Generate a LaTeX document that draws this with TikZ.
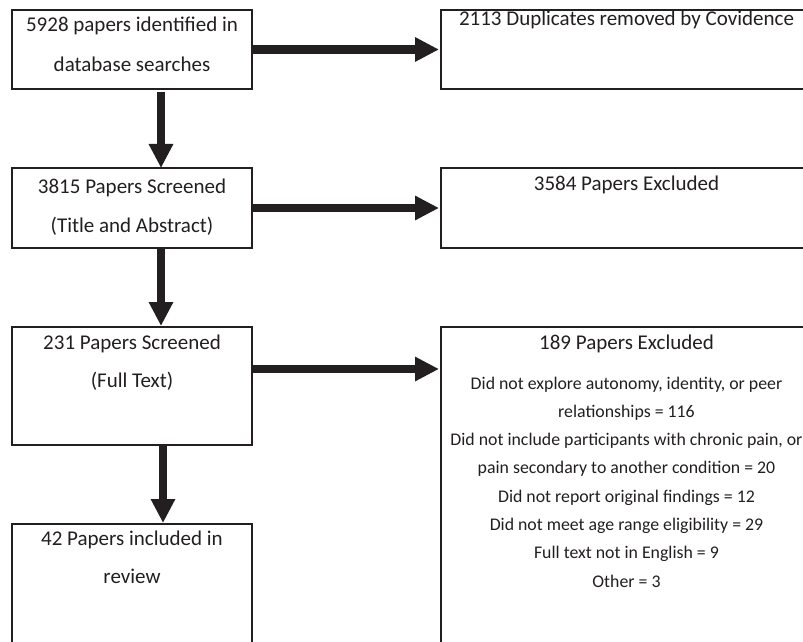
\documentclass[tikz,border=0pt]{standalone}
\usepackage{fontspec}
\setmainfont{Carlito}
\usepackage{xcolor}
\usepackage{tikz}
\usetikzlibrary{calc,arrows.meta}
\definecolor{ink}{HTML}{231F20}
\definecolor{paper}{HTML}{FFFFFF}
\tikzset{
  stage/.style={draw=ink, line width=1.2bp, inner sep=0pt, outer sep=0pt, anchor=north west, text=ink, font=\fontsize{21bp}{39bp}\selectfont},
  flow/.style={draw=ink, line width=8.7bp, -{Triangle[length=24bp,width=23bp]}},
}

\begin{document}
\begin{tikzpicture}[x=1bp,y=-1bp]
  \useasboundingbox (0,0) rectangle (803,642);
  \fill[paper] (0,0) rectangle (803,642);
  \clip (0,0) rectangle (803,642);

  % left column
  \node[stage] (ident) at (12,10) {\parbox[t][79bp][t]{240bp}{\centering\rule{0pt}{22bp}5928 papers identified in\\[1bp]database searches}};
  \node[stage] (scr) at (12,168) {\parbox[t][80bp][t]{240bp}{\centering\rule{0pt}{25bp}3815 Papers Screened\\(Title and Abstract)}};
  \node[stage] (full) at (12,327) {\parbox[t][118bp][t]{240bp}{\centering\rule{0pt}{22bp}231 Papers Screened\\[-0.5bp](Full Text)}};
  \node[stage] (incl) at (12,524) {\parbox[t][140bp][t]{240bp}{\centering\rule{0pt}{21.5bp}42 Papers included in\\[-1bp]review}};

  % right column (runs off the page)
  \node[stage] (dup) at (441,10) {\parbox[t][79bp][t]{371bp}{\centering\rule{0pt}{15.5bp}2113 Duplicates removed by Covidence}};
  \node[stage] (excl) at (441,168) {\parbox[t][80bp][t]{371bp}{\centering\rule{0pt}{23bp}3584 Papers Excluded}};
  \node[stage] (excl2) at (441,327) {\parbox[t][340bp][t]{371bp}{\centering\rule{0pt}{22bp}189 Papers Excluded\par\vspace{11.7bp}%
    {\fontsize{17.8bp}{28.3bp}\selectfont Did not explore autonomy, identity, or peer\\relationships = 116\\Did not include participants with chronic pain, or\\pain secondary to another condition = 20\\Did not report original findings = 12\\Did not meet age range eligibility = 29\\Full text not in English = 9\\Other = 3\par}}};

  \coordinate (a3) at ([yshift=17bp]full.east);

  % connectors
  \draw[flow, shorten <=1bp, shorten >=2bp] (ident.east) -- (dup.west);
  \draw[flow, shorten <=1bp, shorten >=2bp] (scr.east) -- (excl.west);
  \draw[flow, shorten <=1bp, shorten >=2bp] (a3) -- (a3 -| excl2.west);
  \draw[flow, shorten <=3bp] ([xshift=29bp]ident.south) -- ([xshift=29bp]scr.north);
  \draw[flow, shorten <=1bp, shorten >=1bp] ([xshift=29bp]scr.south) -- ([xshift=29bp]full.north);
  \draw[flow, shorten <=1bp, shorten >=1bp] ([xshift=31bp]full.south) -- ([xshift=31bp]incl.north);
\end{tikzpicture}
\end{document}
